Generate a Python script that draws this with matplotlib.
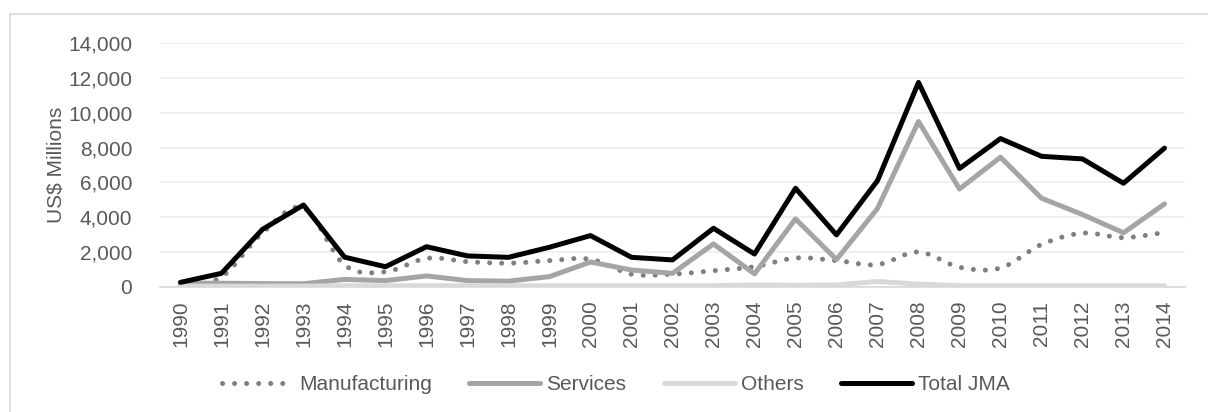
import numpy as np
import matplotlib.pyplot as plt
from matplotlib.path import Path
from matplotlib.patches import PathPatch
from matplotlib.lines import Line2D
from matplotlib.ticker import FuncFormatter

plt.rcParams['font.family'] = ['Liberation Sans', 'DejaVu Sans']

# data (US$ millions)
years = [str(y) for y in range(1990, 2015)]
manufacturing = [50, 560, 3100, 4530, 1250, 860, 1630, 1440, 1350, 1500, 1580, 720, 720,
                 920, 1150, 1650, 1500, 1270, 2000, 1120, 1080, 2430, 3080, 2820, 3120]
services = [200, 200, 180, 170, 420, 350, 620, 350, 320, 580, 1420, 960, 770,
            2460, 740, 3900, 1560, 4500, 9500, 5620, 7450, 5090, 4150, 3100, 4760]
others = [20, 30, 30, 30, 50, 50, 60, 50, 50, 50, 50, 60, 60,
          60, 100, 80, 100, 300, 150, 60, 50, 60, 50, 50, 50]
total = [250, 770, 3300, 4700, 1700, 1150, 2300, 1770, 1690, 2270, 2940, 1690, 1540,
         3360, 1880, 5660, 2980, 6100, 11750, 6800, 8520, 7500, 7350, 5950, 7970]

text_col = '#595959'
fs = 15

fig = plt.figure(figsize=(12.08, 4.12), dpi=100)
ax = fig.add_axes([160 / 1208, 1 - 286.7 / 412, (1185 - 160) / 1208, (286.7 - 43.3) / 412])

x = np.arange(len(years))


def smooth_path(xs, ys):
    # Excel-style smoothed line: Catmull-Rom segments as cubic Beziers
    pts = np.column_stack([xs, ys]).astype(float)
    ext = np.vstack([pts[0], pts, pts[-1]])
    verts = [pts[0]]
    codes = [Path.MOVETO]
    for i in range(len(pts) - 1):
        p0, p1, p2, p3 = ext[i], ext[i + 1], ext[i + 2], ext[i + 3]
        verts += [p1 + (p2 - p0) / 6, p2 - (p3 - p1) / 6, p2]
        codes += [Path.CURVE4] * 3
    return Path(verts, codes)


lw = 3.6
dots = (0, (0.01, 2.4))
man_col = '#7F7F7F'
patch = PathPatch(smooth_path(x, manufacturing), facecolor='none', edgecolor=man_col,
                  linewidth=lw, linestyle=dots, capstyle='round', zorder=2)
ax.add_patch(patch)
ax.plot(x, services, color='#A5A5A5', lw=lw, solid_capstyle='round', zorder=3)
ax.plot(x, others, color='#D9D9D9', lw=lw, solid_capstyle='round', zorder=4)
ax.plot(x, total, color='black', lw=lw, solid_capstyle='round', zorder=5)

ax.set_xlim(-0.5, len(years) - 0.5)
ax.set_ylim(0, 14000)
ax.set_yticks(range(0, 14001, 2000))
ax.yaxis.set_major_formatter(FuncFormatter(lambda v, p: f'{int(v):,}'))
ax.set_xticks(x)
ax.set_xticklabels(years, rotation=90)
ax.grid(axis='y', color='#EDEDED', lw=1.2)
ax.set_axisbelow(True)
for s in ['top', 'right', 'left']:
    ax.spines[s].set_visible(False)
ax.spines['bottom'].set_color('#D9D9D9')
ax.spines['bottom'].set_linewidth(1.2)
ax.tick_params(axis='both', length=0, labelsize=fs, colors=text_col)
ax.tick_params(axis='y', pad=20)
ax.tick_params(axis='x', pad=10)
ax.set_ylabel('US$ Millions', fontsize=fs, color=text_col, labelpad=2)

handles = [
    Line2D([], [], color=man_col, lw=lw, linestyle=dots, dash_capstyle='round'),
    Line2D([], [], color='#A5A5A5', lw=lw, solid_capstyle='round'),
    Line2D([], [], color='#D9D9D9', lw=lw, solid_capstyle='round'),
    Line2D([], [], color='black', lw=lw, solid_capstyle='round'),
]
fig.legend(handles, ['Manufacturing', 'Services', 'Others', 'Total JMA'],
           loc='center', bbox_to_anchor=(616 / 1208, 1 - 385 / 412), ncol=4,
           frameon=False, fontsize=fs, labelcolor=text_col,
           handlelength=3.4, handletextpad=0.3, columnspacing=1.8)

# chart area border (only top and left edges are visible in the crop)
fig.add_artist(Line2D([10 / 1208, 1], [1 - 14 / 412, 1 - 14 / 412], color='#D9D9D9', lw=1.2))
fig.add_artist(Line2D([10 / 1208, 10 / 1208], [0, 1 - 14 / 412], color='#D9D9D9', lw=1.2))

fig.savefig('out.png', dpi=100)
